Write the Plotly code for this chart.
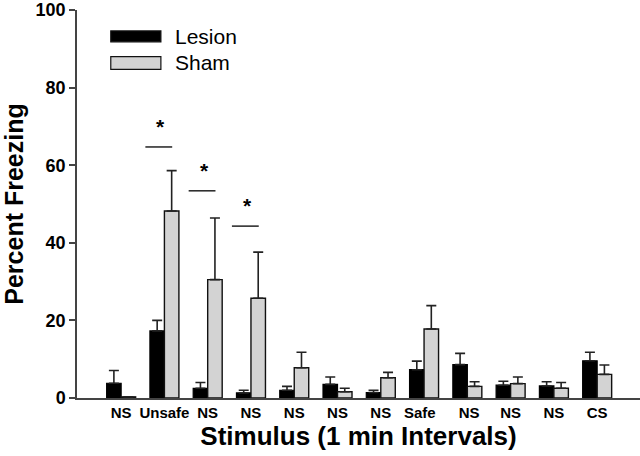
import plotly.graph_objects as go

categories = ["NS", "Unsafe", "NS", "NS", "NS", "NS", "NS", "Safe", "NS", "NS", "NS", "CS"]
lesion_mean = [3.8, 17.3, 2.5, 1.3, 2.0, 3.5, 1.4, 7.3, 8.6, 3.3, 3.1, 9.6]
lesion_top = [7.1, 20.0, 4.0, 2.0, 3.0, 5.4, 2.0, 9.5, 11.5, 4.3, 4.2, 11.8]
sham_mean = [0.3, 48.2, 30.5, 25.7, 7.8, 1.6, 5.2, 17.8, 3.0, 3.7, 2.5, 6.1]
sham_top = [0.3, 58.6, 46.4, 37.6, 11.8, 2.5, 6.6, 23.8, 4.2, 5.4, 4.0, 8.5]
label_shift = [0, 0, 0, 0, 0, 0, 0, -0.1, 0.04, 0, 0, 0]
sig_groups = [1, 2, 3]
sig_heights = [64.7, 53.4, 44.3]

FONT = "Liberation Sans, Arial, sans-serif"
x = list(range(len(categories)))
lesion_err = [t - m for t, m in zip(lesion_top, lesion_mean)]
sham_err = [t - m for t, m in zip(sham_top, sham_mean)]

fig = go.Figure()
fig.add_trace(go.Bar(
    x=x, y=lesion_mean, name="Lesion",
    marker=dict(color="black", line=dict(color="black", width=1.2)),
    error_y=dict(type="data", symmetric=False, array=lesion_err,
                 arrayminus=[0] * len(x), width=5, thickness=1.6, color="#222"),
))
fig.add_trace(go.Bar(
    x=x, y=sham_mean, name="Sham",
    marker=dict(color="#d3d3d3", line=dict(color="#111", width=1.4)),
    error_y=dict(type="data", symmetric=False, array=sham_err,
                 arrayminus=[0] * len(x), width=5, thickness=1.6, color="#222"),
))

for g, h in zip(sig_groups, sig_heights):
    fig.add_shape(type="line", x0=g - 0.44, x1=g + 0.18, y0=h, y1=h,
                  line=dict(color="#222", width=1.5))
    fig.add_annotation(x=g - 0.08, y=h + 5.2, text="*", showarrow=False,
                       font=dict(family=FONT, size=21, color="black", weight="bold"))

# manual legend
legend_items = [("Lesion", "black", 0.946, 0.918), ("Sham", "#d3d3d3", 0.880, 0.847)]
for name, col, y1, y0 in legend_items:
    fig.add_shape(type="rect", xref="paper", yref="paper", x0=0.060, x1=0.149,
                  y0=y0, y1=y1, fillcolor=col, line=dict(color="#111", width=1.2))
    fig.add_annotation(xref="paper", yref="paper", x=0.171, y=(y0 + y1) / 2,
                       xanchor="left", yanchor="middle", text=name, showarrow=False,
                       font=dict(family=FONT, size=21, color="black"))

fig.update_layout(
    width=640, height=456,
    margin=dict(l=77, r=0, t=6, b=58),
    paper_bgcolor="white", plot_bgcolor="white",
    barmode="group", bargap=0.33, bargroupgap=0,
    showlegend=False,
    font=dict(family=FONT, color="black"),
    xaxis=dict(
        range=[-1.02, 11.99],
        tickvals=[i + s for i, s in zip(x, label_shift)],
        ticktext=categories,
        tickfont=dict(family=FONT, size=15, color="black", weight="bold"),
        showline=True, linecolor="#444", linewidth=2,
        ticks="", showgrid=False, zeroline=False,
        title=dict(text="Stimulus (1 min Intervals)", standoff=6,
                   font=dict(family=FONT, size=26, color="black", weight="bold")),
    ),
    yaxis=dict(
        range=[0, 100], tickvals=[0, 20, 40, 60, 80, 100],
        tickfont=dict(family=FONT, size=18, color="black", weight="bold"),
        ticklabeloverflow="allow",
        showline=True, linecolor="#444", linewidth=1.5,
        ticks="outside", ticklen=6, tickwidth=1.5, tickcolor="#444",
        showgrid=False, zeroline=False,
        title=dict(text="Percent Freezing", standoff=8,
                   font=dict(family=FONT, size=25, color="black", weight="bold")),
    ),
)

fig.write_html("out.html", config={"displayModeBar": False},
               post_script="document.body.style.margin='0';")
